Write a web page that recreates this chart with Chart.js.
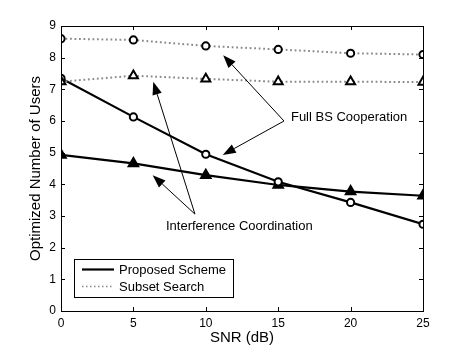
<!DOCTYPE html>
<html><head><meta charset="utf-8">
<script src="https://cdn.jsdelivr.net/npm/chart.js@4.4.1/dist/chart.umd.min.js"></script>
<style>html,body{margin:0;padding:0;background:#fff}#wrap{width:467px;height:351px}</style>
</head><body><div id="wrap"><canvas id="c" width="467" height="351"></canvas></div>
<script>
// ---- data ----
const snr = [0, 5, 10, 15, 20, 25];
const proposedFullBS = [7.35, 6.13, 4.95, 4.08, 3.43, 2.74];   // solid, circles
const proposedIC     = [4.93, 4.66, 4.29, 3.98, 3.77, 3.64];   // solid, triangles
const subsetFullBS   = [8.60, 8.56, 8.37, 8.26, 8.14, 8.10];   // dotted, circles
const subsetIC       = [7.24, 7.43, 7.33, 7.24, 7.24, 7.23];   // dotted, triangles
const xTicks = [0, 5, 10, 15, 20, 25];
const yTicks = [0, 1, 2, 3, 4, 5, 6, 7, 8, 9];
const legendLabels = ['Proposed Scheme', 'Subset Search'];
const xTitle = 'SNR (dB)';
const yTitle = 'Optimized Number of Users';
// annotations (data coordinates)
const fullBSLabel = 'Full BS Cooperation';
const fullBSLabelAt = [15.88, 6.1];
const fullBSArrowFrom = [15.4, 6.0];
const fullBSArrowTips = [[11.2, 8.08], [11.17, 4.93]];
const icLabel = 'Interference Coordination';
const icLabelAt = [7.25, 2.66];
const icArrowFrom = [9.25, 3.06];
const icArrowTips = [[6.33, 4.29], [6.37, 7.24]];

const FONT = '"Liberation Sans", Arial, Helvetica, sans-serif';
const GRAY = '#8a8a8a';

const toXY = (xs, ys) => xs.map((x, i) => ({x, y: ys[i]}));

const framePlugin = {
  id: 'frame',
  afterDraw(chart) {
    const {ctx, chartArea: a, scales: {x, y}} = chart;
    ctx.save();
    ctx.strokeStyle = '#000';
    ctx.lineWidth = 1;
    ctx.strokeRect(Math.round(a.left) + 0.5, Math.round(a.top) + 0.5,
                   Math.round(a.right - a.left), Math.round(a.bottom - a.top));
    const tl = 4;
    ctx.beginPath();
    xTicks.forEach(v => {
      const px = Math.round(x.getPixelForValue(v)) + 0.5;
      ctx.moveTo(px, a.bottom); ctx.lineTo(px, a.bottom - tl);
      ctx.moveTo(px, a.top); ctx.lineTo(px, a.top + tl);
    });
    yTicks.forEach(v => {
      const py = Math.round(y.getPixelForValue(v)) + 0.5;
      ctx.moveTo(a.left, py); ctx.lineTo(a.left + tl, py);
      ctx.moveTo(a.right, py); ctx.lineTo(a.right - tl, py);
    });
    ctx.stroke();
    ctx.restore();
  }
};

function arrow(ctx, x0, y0, x1, y1) {
  const ang = Math.atan2(y1 - y0, x1 - x0);
  const L = 13, W = 4.8;
  const bx = x1 - L * Math.cos(ang), by = y1 - L * Math.sin(ang);
  ctx.beginPath();
  ctx.moveTo(x0, y0); ctx.lineTo(bx, by);
  ctx.stroke();
  ctx.beginPath();
  ctx.moveTo(x1, y1);
  ctx.lineTo(bx + W * Math.sin(ang), by - W * Math.cos(ang));
  ctx.lineTo(bx - W * Math.sin(ang), by + W * Math.cos(ang));
  ctx.closePath();
  ctx.fill();
}

const annotPlugin = {
  id: 'annot',
  afterDraw(chart) {
    const {ctx, scales: {x, y}} = chart;
    const P = p => [x.getPixelForValue(p[0]), y.getPixelForValue(p[1])];
    ctx.save();
    ctx.strokeStyle = '#000'; ctx.fillStyle = '#000'; ctx.lineWidth = 1;
    [[fullBSArrowFrom, fullBSArrowTips], [icArrowFrom, icArrowTips]].forEach(([from, tips]) => {
      const f = P(from);
      tips.forEach(t => { const tp = P(t); arrow(ctx, f[0], f[1], tp[0], tp[1]); });
    });
    ctx.font = '13px ' + FONT;
    ctx.textBaseline = 'middle'; ctx.textAlign = 'left';
    let p = P(fullBSLabelAt); ctx.fillText(fullBSLabel, p[0], p[1]);
    p = P(icLabelAt); ctx.fillText(icLabel, p[0], p[1]);
    ctx.restore();
  }
};

const legendPlugin = {
  id: 'boxLegend',
  afterDraw(chart) {
    const {ctx} = chart;
    const bx = 74.5, by = 259.5, bw = 159, bh = 38;
    ctx.save();
    ctx.fillStyle = '#fff';
    ctx.fillRect(bx, by, bw, bh);
    ctx.strokeStyle = '#000'; ctx.lineWidth = 1;
    ctx.strokeRect(bx, by, bw, bh);
    // entry 1
    ctx.strokeStyle = '#000'; ctx.lineWidth = 2.2; ctx.setLineDash([]);
    ctx.beginPath(); ctx.moveTo(82, 269.5); ctx.lineTo(114, 269.5); ctx.stroke();
    // entry 2
    ctx.strokeStyle = GRAY; ctx.lineWidth = 1.3; ctx.setLineDash([1.5, 2.5]);
    ctx.beginPath(); ctx.moveTo(82, 286.5); ctx.lineTo(114, 286.5); ctx.stroke();
    ctx.setLineDash([]);
    ctx.fillStyle = '#000';
    ctx.font = '13px ' + FONT;
    ctx.textBaseline = 'middle'; ctx.textAlign = 'left';
    ctx.fillText(legendLabels[0], 119, 270);
    ctx.fillText(legendLabels[1], 119, 287);
    ctx.restore();
  }
};

const solid = {borderColor: '#000', borderWidth: 2.2, pointBorderColor: '#000', pointBorderWidth: 2, tension: 0};
const dotted = {borderColor: GRAY, borderWidth: 2, borderDash: [1.8, 2.7], pointBorderColor: '#000', pointBorderWidth: 2, tension: 0};

new Chart(document.getElementById('c'), {
  type: 'line',
  data: {
    datasets: [
      Object.assign({label: 'Subset Full BS', data: toXY(snr, subsetFullBS), pointStyle: 'circle', pointRadius: 3.6, pointBackgroundColor: '#fff'}, dotted),
      Object.assign({label: 'Subset IC', data: toXY(snr, subsetIC), pointStyle: 'triangle', pointRadius: 5.2, pointBackgroundColor: '#fff'}, dotted),
      Object.assign({label: 'Proposed Full BS', data: toXY(snr, proposedFullBS), pointStyle: 'circle', pointRadius: 3.6, pointBackgroundColor: '#fff'}, solid),
      Object.assign({label: 'Proposed IC', data: toXY(snr, proposedIC), pointStyle: 'triangle', pointRadius: 5.5, pointBackgroundColor: '#000'}, solid)
    ]
  },
  options: {
    responsive: false,
    animation: false,
    devicePixelRatio: 1,
    layout: {padding: {left: 0, right: 44, top: 26, bottom: 0}},
    plugins: {legend: {display: false}, tooltip: {enabled: false}},
    elements: {point: {hoverRadius: 0}},
    scales: {
      x: {
        type: 'linear', min: 0, max: 25,
        afterBuildTicks: s => { s.ticks = xTicks.map(v => ({value: v})); },
        afterFit: s => { s.height = 40; },
        grid: {display: false, drawTicks: false},
        border: {display: false},
        ticks: {color: '#000', padding: 5, font: {family: FONT, size: 12}, maxRotation: 0},
        title: {display: true, text: xTitle, color: '#000', font: {family: FONT, size: 15}, padding: {top: 0, bottom: 4}}
      },
      y: {
        type: 'linear', min: 0, max: 9,
        afterBuildTicks: s => { s.ticks = yTicks.map(v => ({value: v})); },
        afterFit: s => { s.width = 61; },
        grid: {display: false, drawTicks: false},
        border: {display: false},
        ticks: {color: '#000', padding: 5, font: {family: FONT, size: 12}},
        title: {display: true, text: yTitle, color: '#000', font: {family: FONT, size: 15}, padding: {top: 27, bottom: 0}}
      }
    }
  },
  plugins: [framePlugin, annotPlugin, legendPlugin]
});
</script>
</body></html>
